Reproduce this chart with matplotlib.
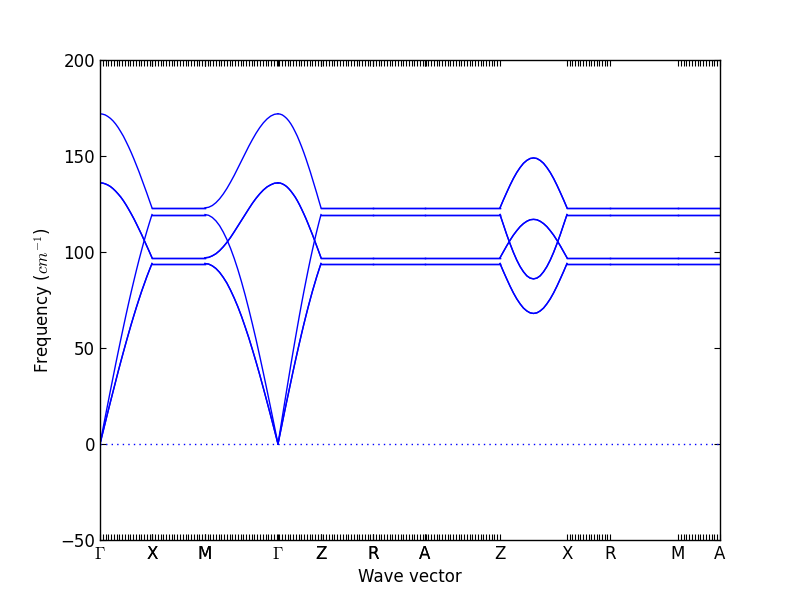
import numpy as np
import matplotlib
matplotlib.use("Agg")
import matplotlib.pyplot as plt

plt.rcParams['mathtext.fontset'] = 'cm'
plt.rcParams['font.family'] = 'DejaVu Sans'
plt.rcParams['font.size'] = 12

# high-symmetry path
node_labels = [r'$\Gamma$', 'X', 'M', r'$\Gamma$', 'Z', 'R', 'A', 'Z', 'X', 'R', 'M', 'A']
node_pos = [0, 52, 105, 178, 221, 273, 325, 400, 467, 510, 578, 620]
doubled_labels = [1, 2, 4, 5, 6]   # labels printed twice in the original

# flat band levels (cm^-1) and their degeneracies
flat_levels = [123.0, 119.5, 97.0, 94.0]
flat_degen = [1, 1, 2, 2]

# Gamma -> X (and Gamma -> Z) dispersion, 21 samples
gx_top = [172, 171.8, 171.4, 170.6, 169.6, 168.3, 166.7, 164.8, 162.6, 160.3, 157.6,
          154.8, 151.8, 148.6, 145.2, 141.8, 138.1, 134.4, 130.7, 126.8, 123]
gx_opt = [136, 135.9, 135.5, 134.9, 134.1, 133.0, 131.7, 130.2, 128.6, 126.7, 124.6,
          122.3, 119.9, 117.4, 114.7, 111.9, 109.1, 106.1, 103.1, 100.1, 97]
gx_ac_hi = [0, 7.0, 14.0, 20.9, 27.8, 34.6, 41.4, 48.0, 54.5, 60.9, 67.2,
            73.3, 79.2, 84.9, 90.5, 95.9, 101.0, 106.0, 110.7, 115.2, 119.5]
gx_ac_lo = [0, 5.5, 11.0, 16.5, 21.9, 27.2, 32.5, 37.8, 42.9, 47.9, 52.8,
            57.6, 62.3, 66.8, 71.2, 75.4, 79.5, 83.3, 87.1, 90.6, 94]

# M -> Gamma dispersion, 21 samples
mg_top = [123, 123.3, 124.2, 125.7, 127.7, 130.2, 133.1, 136.4, 139.9, 143.7, 147.5,
          151.3, 155.1, 158.6, 161.9, 164.8, 167.3, 169.3, 170.8, 171.7, 172]
mg_opt = [97, 97.2, 98.0, 99.1, 100.7, 102.7, 105.0, 107.6, 110.5, 113.5, 116.5,
          119.5, 122.5, 125.4, 128.0, 130.3, 132.3, 133.9, 135.0, 135.8, 136]
mg_ac_hi = [119.5, 119.1, 118.0, 116.2, 113.7, 110.4, 106.5, 101.9, 96.7, 90.9, 84.5,
            77.6, 70.2, 62.4, 54.3, 45.7, 36.9, 27.9, 18.7, 9.4, 0]
mg_ac_lo = [94, 93.7, 92.8, 91.4, 89.4, 86.8, 83.8, 80.1, 76.0, 71.5, 66.5,
            61.0, 55.3, 49.1, 42.7, 36.0, 29.0, 21.9, 14.7, 7.4, 0]

# Z -> X dispersion, 21 samples
zx_b1 = [123, 127.1, 131.0, 134.8, 138.3, 141.4, 144.0, 146.2, 147.7, 148.7, 149,
         148.7, 147.7, 146.2, 144.0, 141.4, 138.3, 134.8, 131.0, 127.1, 123]
zx_b2 = [119.5, 114.3, 109.1, 104.3, 99.8, 95.8, 92.4, 89.7, 87.6, 86.4, 86,
         86.4, 87.6, 89.7, 92.4, 95.8, 99.8, 104.3, 109.1, 114.3, 119.5]
zx_b3 = [97, 100.1, 103.2, 106.1, 108.8, 111.1, 113.2, 114.8, 116.0, 116.8, 117,
         116.8, 116.0, 114.8, 113.2, 111.1, 108.8, 106.1, 103.2, 100.1, 97]
zx_b4 = [94, 89.9, 86.0, 82.2, 78.7, 75.6, 73.0, 70.8, 69.3, 68.3, 68,
         68.3, 69.3, 70.8, 73.0, 75.6, 78.7, 82.2, 86.0, 89.9, 94]

fig = plt.figure(figsize=(8, 6), dpi=100, facecolor='white')
ax = fig.add_axes([0.125, 0.1, 0.775, 0.8])

def draw(x0, x1, vals, n=1):
    xs = np.linspace(x0, x1, len(vals))
    for _ in range(n):
        ax.plot(xs, vals, color='b', lw=1.0)

curved = {
    0: [(gx_top, 1), (gx_opt, 2), (gx_ac_hi, 1), (gx_ac_lo, 2)],
    2: [(mg_top, 1), (mg_opt, 2), (mg_ac_hi, 1), (mg_ac_lo, 2)],
    3: [(gx_top, 1), (gx_opt, 2), (gx_ac_hi, 1), (gx_ac_lo, 2)],
    7: [(zx_b1, 2), (zx_b2, 2), (zx_b3, 2), (zx_b4, 2)],
}
for i in range(len(node_pos) - 1):
    x0, x1 = node_pos[i], node_pos[i + 1]
    if i in curved:
        for vals, n in curved[i]:
            draw(x0, x1, vals, n)
    else:
        for lev, n in zip(flat_levels, flat_degen):
            draw(x0, x1, [lev, lev], 2)

ax.axhline(0, color='b', ls=(0, (1, 3)), lw=1.0)

ax.set_xlim(node_pos[0], node_pos[-1])
ax.set_ylim(-50, 200)
ax.set_yticks([-50, 0, 50, 100, 150, 200])

tick_pos = list(node_pos) + [node_pos[i] for i in doubled_labels]
tick_lab = list(node_labels) + [node_labels[i] for i in doubled_labels]
ax.set_xticks(tick_pos)
ax.set_xticklabels(tick_lab)

# dense minor ticks along the sampled path
minor = []
for a, b in [(0, 400), (467, 510), (578, 620)]:
    n = int(round((b - a) / 2.75))
    minor.extend(np.linspace(a, b, n + 1))
ax.set_xticks(minor, minor=True)

ax.tick_params(which='both', direction='in', top=True, right=True, length=4, width=0.8)
ax.tick_params(axis='x', which='minor', length=4)
for s in ax.spines.values():
    s.set_linewidth(1.0)

ax.set_xlabel('Wave vector')
ax.set_ylabel(r'Frequency ($cm^{-1}$)')

fig.savefig('out.png', dpi=100, facecolor='white')
